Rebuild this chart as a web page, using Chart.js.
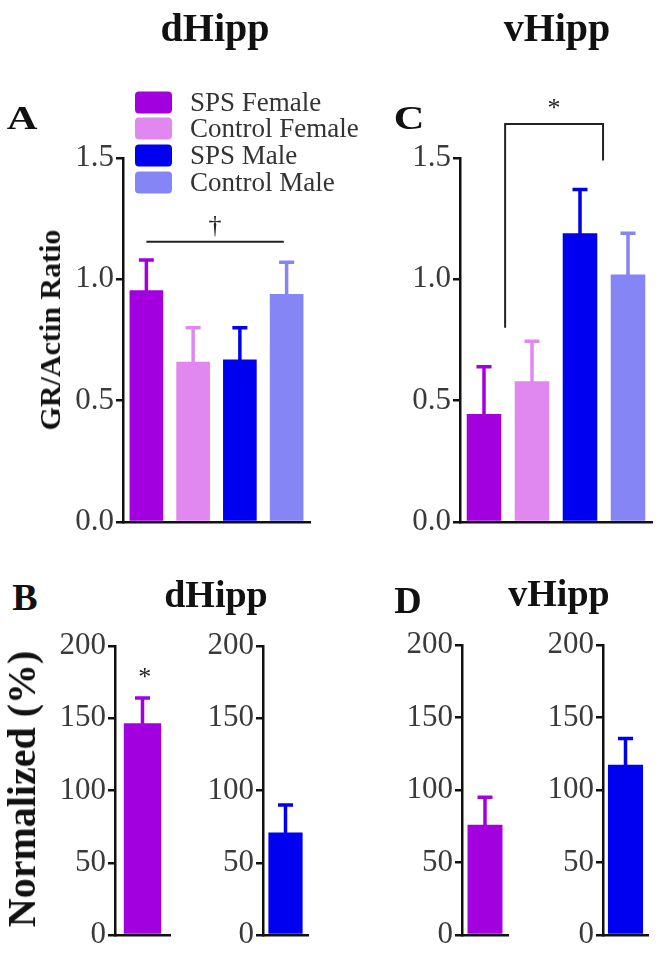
<!DOCTYPE html>
<html><head><meta charset="utf-8">
<script src="https://cdn.jsdelivr.net/npm/chart.js@4.4.1/dist/chart.umd.min.js"></script>
<style>
html,body{margin:0;padding:0;background:#fff;}
#wrap{position:relative;width:669px;height:968px;overflow:hidden;font-family:"Liberation Serif","Times New Roman",serif;}
canvas{position:absolute;}
.t{position:absolute;white-space:nowrap;line-height:1;color:#111;font-weight:bold;transform:translate(-50%,-50%);font-family:"Liberation Serif","Times New Roman",serif;}
.lgrow{position:absolute;left:135px;height:27px;display:flex;align-items:center;transform:translateY(-50%);}
.lgbox{width:37px;height:22px;border-radius:4px;margin-right:18px;}
.lgtxt{font-size:27px;color:#333;line-height:1;white-space:nowrap;font-family:"Liberation Serif","Times New Roman",serif;}
</style></head>
<body><div id="wrap">
<canvas id="cA" width="335" height="560" style="left:0;top:0;width:335px;height:560px"></canvas>
<canvas id="cC" width="334" height="560" style="left:335px;top:0;width:334px;height:560px"></canvas>
<canvas id="cB1" width="150" height="348" style="left:40px;top:620px;width:150px;height:348px"></canvas>
<canvas id="cB2" width="140" height="348" style="left:190px;top:620px;width:140px;height:348px"></canvas>
<canvas id="cD1" width="150" height="348" style="left:380px;top:620px;width:150px;height:348px"></canvas>
<canvas id="cD2" width="139" height="348" style="left:530px;top:620px;width:139px;height:348px"></canvas>

<div class="t" style="left:215px;top:28px;font-size:40px">dHipp</div>
<div class="t" style="left:557px;top:28px;font-size:40px">vHipp</div>
<div class="t" style="left:22px;top:118px;font-size:34px;transform:translate(-50%,-50%) scaleX(1.25)">A</div>
<div class="t" style="left:409px;top:118px;font-size:34px;transform:translate(-50%,-50%) scaleX(1.25)">C</div>
<div class="t" style="left:25px;top:597px;font-size:38px">B</div>
<div class="t" style="left:408px;top:600px;font-size:38px">D</div>
<div class="t" style="left:216px;top:594px;font-size:38px">dHipp</div>
<div class="t" style="left:559px;top:593px;font-size:38px">vHipp</div>
<div class="t" style="left:50px;top:330px;font-size:30px;transform:translate(-50%,-50%) rotate(-90deg)">GR/Actin Ratio</div>
<div class="t" style="left:22px;top:789px;font-size:40px;transform:translate(-50%,-50%) rotate(-90deg)">Normalized (%)</div>
<div id="legend"></div>
</div>
<script>
// ---------------- data ----------------
const categories = ['SPS Female', 'Control Female', 'SPS Male', 'Control Male'];
const seriesColors = ['#a300e0', '#e088f0', '#0000f0', '#8585f5'];

const dHippRatio    = [0.955, 0.66, 0.67, 0.94];
const dHippRatioSEM = [0.125, 0.14, 0.13, 0.13];
const vHippRatio    = [0.445, 0.58, 1.19, 1.02];
const vHippRatioSEM = [0.195, 0.165, 0.18, 0.17];

const normalizedGroups = ['SPS Female', 'SPS Male'];
const normalizedColors = ['#a300e0', '#0000f0'];
const dHippNormalized    = [146.5, 71];
const dHippNormalizedSEM = [17.5, 19];
const vHippNormalized    = [76, 117.5];
const vHippNormalizedSEM = [19, 18];

const ratioTickValues = [0, 0.5, 1.0, 1.5];
const ratioTickLabels = ['0.0', '0.5', '1.0', '1.5'];
const normTickValues = [0, 50, 100, 150, 200];
const normTickLabels = ['0', '50', '100', '150', '200'];

// ---------------- legend ----------------
const legendRowsY = [102, 128, 155, 182];
const lg = document.getElementById('legend');
categories.forEach((c, i) => {
  const row = document.createElement('div');
  row.className = 'lgrow';
  row.style.top = legendRowsY[i] + 'px';
  row.innerHTML = '<div class="lgbox" style="background:' + seriesColors[i] + '"></div><div class="lgtxt">' + c + '</div>';
  lg.appendChild(row);
});

// ---------------- plugins ----------------
const FONT = '"Liberation Serif","Times New Roman",serif';
const errorBarPlugin = {
  id: 'errorBars',
  afterDatasetsDraw(chart, args, opts) {
    if (!opts || !opts.sem) return;
    const ctx = chart.ctx;
    const meta = chart.getDatasetMeta(0);
    const ys = chart.scales.y;
    const vals = chart.data.datasets[0].data;
    const cols = chart.data.datasets[0].backgroundColor;
    ctx.save();
    meta.data.forEach((el, i) => {
      const top = ys.getPixelForValue(vals[i] + opts.sem[i]);
      ctx.strokeStyle = cols[i];
      ctx.lineWidth = 3.5;
      ctx.lineCap = 'butt';
      ctx.beginPath();
      ctx.moveTo(el.x, el.y + 1);
      ctx.lineTo(el.x, top);
      ctx.moveTo(el.x - 7.5, top);
      ctx.lineTo(el.x + 7.5, top);
      ctx.stroke();
    });
    ctx.restore();
  }
};
const annotPlugin = {
  id: 'annot',
  afterDraw(chart, args, opts) {
    if (!opts) return;
    const ctx = chart.ctx, xs = chart.scales.x, ys = chart.scales.y;
    ctx.save();
    (opts.lines || []).forEach(line => {
      ctx.strokeStyle = '#222';
      ctx.lineWidth = 2;
      ctx.beginPath();
      line.forEach((p, k) => {
        const x = xs.getPixelForValue(p[0]), y = ys.getPixelForValue(p[1]);
        if (k === 0) ctx.moveTo(x, y); else ctx.lineTo(x, y);
      });
      ctx.stroke();
    });
    (opts.texts || []).forEach(t => {
      ctx.fillStyle = '#222';
      ctx.font = t.size + 'px ' + FONT;
      ctx.textAlign = 'center';
      ctx.textBaseline = 'middle';
      ctx.fillText(t.text, xs.getPixelForValue(t.x), ys.getPixelForValue(t.y));
    });
    ctx.restore();
  }
};

function makeChart(id, labels, values, sems, colors, tickVals, tickLbls, lay, barPct, annot) {
  const max = tickVals[tickVals.length - 1];
  return new Chart(document.getElementById(id), {
    type: 'bar',
    data: { labels: labels, datasets: [{ data: values, backgroundColor: colors, borderWidth: 0 }] },
    options: {
      responsive: false, animation: false,
      layout: { padding: { left: 0, top: lay.top, right: lay.right, bottom: lay.bottom } },
      datasets: { bar: { barPercentage: barPct, categoryPercentage: 1 } },
      plugins: { legend: { display: false }, tooltip: { enabled: false },
        errorBars: { sem: sems }, annot: annot || {} },
      scales: {
        x: { offset: true, ticks: { display: false }, grid: { display: false },
             border: { display: true, color: '#111', width: 2.5 },
             afterFit(s) { s.height = 0; } },
        y: { min: 0, max: max,
             afterBuildTicks(s) { s.ticks = tickVals.map(v => ({ value: v })); },
             ticks: { callback: (v) => tickLbls[tickVals.indexOf(v)], font: { family: FONT, size: 31 }, color: '#3a3a3a', padding: 2 },
             grid: { display: true, drawOnChartArea: false, drawTicks: true, tickLength: 7, color: '#111', lineWidth: 2.5 },
             border: { display: true, color: '#111', width: 2.5 },
             afterFit(s) { s.width = lay.left; } }
      }
    },
    plugins: [errorBarPlugin, annotPlugin]
  });
}

// Panel A (dHipp)
makeChart('cA', categories, dHippRatio, dHippRatioSEM, seriesColors, ratioTickValues, ratioTickLabels,
  { left: 123, top: 158, right: 25, bottom: 38 }, 0.72,
  { lines: [[[0, 1.155], [2.94, 1.155]]], texts: [{ text: '†', x: 1.47, y: 1.22, size: 26 }] });
// Panel C (vHipp)
makeChart('cC', categories, vHippRatio, vHippRatioSEM, seriesColors, ratioTickValues, ratioTickLabels,
  { left: 125, top: 158, right: 17, bottom: 38 }, 0.72,
  { lines: [[[0.44, 0.80], [0.44, 1.64], [2.48, 1.64], [2.48, 1.49]]], texts: [{ text: '*', x: 1.46, y: 1.70, size: 26 }] });
// Panel B (dHipp normalized)
makeChart('cB1', [normalizedGroups[0]], [dHippNormalized[0]], [dHippNormalizedSEM[0]], [normalizedColors[0]], normTickValues, normTickLabels,
  { left: 75, top: 26, right: 20, bottom: 33 }, 0.68,
  { texts: [{ text: '*', x: 0.04, y: 178, size: 26 }] });
makeChart('cB2', [normalizedGroups[1]], [dHippNormalized[1]], [dHippNormalizedSEM[1]], [normalizedColors[1]], normTickValues, normTickLabels,
  { left: 73, top: 26, right: 22, bottom: 33 }, 0.76);
// Panel D (vHipp normalized)
makeChart('cD1', [normalizedGroups[0]], [vHippNormalized[0]], [vHippNormalizedSEM[0]], [normalizedColors[0]], normTickValues, normTickLabels,
  { left: 82, top: 25, right: 22, bottom: 33 }, 0.76);
makeChart('cD2', [normalizedGroups[1]], [vHippNormalized[1]], [vHippNormalizedSEM[1]], [normalizedColors[1]], normTickValues, normTickLabels,
  { left: 73, top: 25, right: 21, bottom: 33 }, 0.78);
</script>
</body></html>
